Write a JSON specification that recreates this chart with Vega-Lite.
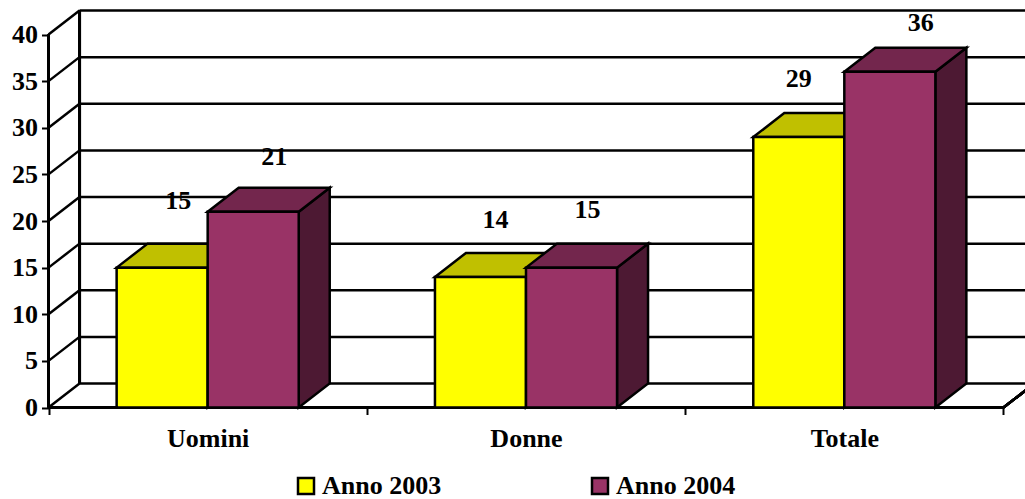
{
  "$schema": "https://vega.github.io/schema/vega-lite/v6.json",
  "autosize": {"type": "none"},
  "width": 1025,
  "height": 499,
  "padding": 0,
  "background": "white",
  "view": {"stroke": null},
  "config": {"font": "Liberation Serif"},
  "datasets": {
    "barre": [
      {"categoria": "Uomini", "anno": "Anno 2003", "valore": 15},
      {"categoria": "Uomini", "anno": "Anno 2004", "valore": 21},
      {"categoria": "Donne", "anno": "Anno 2003", "valore": 14},
      {"categoria": "Donne", "anno": "Anno 2004", "valore": 15},
      {"categoria": "Totale", "anno": "Anno 2003", "valore": 29},
      {"categoria": "Totale", "anno": "Anno 2004", "valore": 36}
    ],
    "griglia": [
      {"t": 0}, {"t": 5}, {"t": 10}, {"t": 15}, {"t": 20}, {"t": 25}, {"t": 30}, {"t": 35}, {"t": 40}
    ]
  },
  "data": {"name": "barre"},
  "transform": [
    {"calculate": "indexof(['Uomini','Donne','Totale'],datum.categoria)+0.214+(datum.anno=='Anno 2004'?0.286:0)", "as": "x0"},
    {"calculate": "datum.x0+0.286", "as": "x1"},
    {"calculate": "datum.x0+0.143", "as": "xc"},
    {"calculate": "datum.valore+2.574", "as": "vb"}
  ],
  "layer": [
    {
      "data": {"name": "griglia"},
      "transform": [{"calculate": "datum.t+2.574", "as": "tb"}],
      "mark": {"type": "rule", "stroke": "black", "strokeWidth": 2.5},
      "encoding": {
        "x": {
          "datum": 0.0974,
          "type": "quantitative",
          "scale": {"domain": [-0.1524, 3.0676], "nice": false, "zero": false},
          "axis": {
            "title": null, "grid": false, "domain": false, "orient": "bottom", "offset": -91.5,
            "values": [0, 0.5, 1, 1.5, 2, 2.5, 3],
            "labelExpr": "datum.value==0.5?'Uomini':datum.value==1.5?'Donne':datum.value==2.5?'Totale':''",
            "labelFont": "Liberation Serif", "labelFontWeight": "bold", "labelFontSize": 26, "labelColor": "black",
            "labelPadding": 11, "labelOverlap": false, "labelFlush": false, "labelAngle": 0,
            "tickColor": "black", "tickWidth": 2, "tickSize": 7,
            "tickOpacity": {"condition": {"test": "datum.value%1==0", "value": 1}, "value": 0}
          }
        },
        "x2": {"datum": 3.0676},
        "y": {
          "field": "tb",
          "type": "quantitative",
          "scale": {"domain": [-9.812, 43.7], "nice": false, "zero": false},
          "axis": {
            "title": null, "grid": false, "domain": false, "orient": "left", "offset": -48.5,
            "values": [0, 5, 10, 15, 20, 25, 30, 35, 40],
            "labelFont": "Liberation Serif", "labelFontWeight": "bold", "labelFontSize": 26, "labelColor": "black",
            "labelPadding": 4, "labelOverlap": false, "labelFlush": false,
            "tickColor": "black", "tickWidth": 2, "tickSize": 7
          }
        }
      }
    },
    {
      "data": {"name": "griglia"},
      "transform": [{"calculate": "datum.t+2.574", "as": "tb"}],
      "mark": {"type": "rule", "stroke": "black", "strokeWidth": 2.5},
      "encoding": {
        "x": {"datum": 0, "type": "quantitative"},
        "x2": {"datum": 0.0974},
        "y": {"field": "t", "type": "quantitative"},
        "y2": {"field": "tb"}
      }
    },
    {
      "mark": {"type": "rule", "stroke": "black", "strokeWidth": 2.5},
      "encoding": {
        "x": {"datum": 0, "type": "quantitative"},
        "y": {"datum": 0, "type": "quantitative"},
        "y2": {"datum": 40}
      }
    },
    {
      "mark": {"type": "rule", "stroke": "black", "strokeWidth": 3},
      "encoding": {
        "x": {"datum": 0.0974, "type": "quantitative"},
        "y": {"datum": 2.574, "type": "quantitative"},
        "y2": {"datum": 42.574}
      }
    },
    {
      "mark": {"type": "rule", "stroke": "black", "strokeWidth": 2.5, "clip": true},
      "encoding": {
        "x": {"datum": 3, "type": "quantitative"},
        "x2": {"datum": 3.0974},
        "y": {"datum": 0, "type": "quantitative"},
        "y2": {"datum": 2.574}
      }
    },
    {
      "mark": {"type": "rule", "stroke": "black", "strokeWidth": 3},
      "encoding": {
        "x": {"datum": 0, "type": "quantitative"},
        "x2": {"datum": 3},
        "y": {"datum": 0, "type": "quantitative"}
      }
    },
    {
      "transform": [
        {"calculate": "[0,1]", "as": "k"},
        {"flatten": ["k"]},
        {"calculate": "datum.x1+datum.k*0.0974", "as": "xs"},
        {"calculate": "datum.k*2.574", "as": "low"},
        {"calculate": "datum.valore+datum.k*2.574", "as": "high"},
        {"calculate": "datum.categoria+datum.anno", "as": "id"}
      ],
      "mark": {"type": "area", "orient": "vertical", "stroke": "black", "strokeWidth": 2.5, "strokeJoin": "miter"},
      "encoding": {
        "x": {"field": "xs", "type": "quantitative"},
        "y": {"field": "high", "type": "quantitative", "stack": null},
        "y2": {"field": "low"},
        "detail": {"field": "id"},
        "fill": {"condition": {"test": "datum.anno=='Anno 2003'", "value": "#808000"}, "value": "#4d1933"}
      }
    },
    {
      "transform": [
        {"calculate": "[0,1,2,3]", "as": "k"},
        {"flatten": ["k"]},
        {"calculate": "datum.k==0?datum.x0:datum.k==1?datum.x0+0.0974:datum.k==2?datum.x1:datum.x1+0.0974", "as": "xs"},
        {"calculate": "datum.k==0?datum.valore:datum.vb", "as": "high"},
        {"calculate": "datum.k==3?datum.vb:datum.valore", "as": "low"},
        {"calculate": "datum.categoria+datum.anno", "as": "id"}
      ],
      "mark": {"type": "area", "orient": "vertical", "stroke": "black", "strokeWidth": 2.5, "strokeJoin": "miter"},
      "encoding": {
        "x": {"field": "xs", "type": "quantitative"},
        "y": {"field": "high", "type": "quantitative", "stack": null},
        "y2": {"field": "low"},
        "detail": {"field": "id"},
        "fill": {"condition": {"test": "datum.anno=='Anno 2003'", "value": "#c0c000"}, "value": "#73264d"}
      }
    },
    {
      "mark": {"type": "bar", "stroke": "black", "strokeWidth": 2.5},
      "encoding": {
        "x": {"field": "x0", "type": "quantitative"},
        "x2": {"field": "x1"},
        "y": {"field": "valore", "type": "quantitative", "stack": null},
        "y2": {"datum": 0},
        "fill": {
          "field": "anno",
          "type": "nominal",
          "scale": {"domain": ["Anno 2003", "Anno 2004"], "range": ["#ffff00", "#993366"]},
          "legend": {
            "title": null, "orient": "none", "legendX": 293, "legendY": 473, "columns": 2, "columnPadding": 145,
            "direction": "horizontal",
            "symbolType": "square", "symbolSize": 256, "symbolStrokeColor": "black", "symbolStrokeWidth": 2.5, "symbolOpacity": 1,
            "labelFont": "Liberation Serif", "labelFontWeight": "bold", "labelFontSize": 26, "labelColor": "black", "labelOffset": 3, "labelLimit": 300
          }
        }
      }
    },
    {
      "transform": [{"filter": "datum.categoria=='Uomini'&&datum.anno=='Anno 2003'"}],
      "mark": {"type": "text", "font": "Liberation Serif", "fontWeight": "bold", "fontSize": 26, "fill": "black", "dx": 16, "dy": -67},
      "encoding": {"x": {"field": "xc", "type": "quantitative"}, "y": {"field": "valore", "type": "quantitative", "stack": null}, "text": {"field": "valore"}}
    },
    {
      "transform": [{"filter": "datum.categoria=='Uomini'&&datum.anno=='Anno 2004'"}],
      "mark": {"type": "text", "font": "Liberation Serif", "fontWeight": "bold", "fontSize": 26, "fill": "black", "dx": 21, "dy": -55},
      "encoding": {"x": {"field": "xc", "type": "quantitative"}, "y": {"field": "valore", "type": "quantitative", "stack": null}, "text": {"field": "valore"}}
    },
    {
      "transform": [{"filter": "datum.categoria=='Donne'&&datum.anno=='Anno 2003'"}],
      "mark": {"type": "text", "font": "Liberation Serif", "fontWeight": "bold", "fontSize": 26, "fill": "black", "dx": 15, "dy": -57},
      "encoding": {"x": {"field": "xc", "type": "quantitative"}, "y": {"field": "valore", "type": "quantitative", "stack": null}, "text": {"field": "valore"}}
    },
    {
      "transform": [{"filter": "datum.categoria=='Donne'&&datum.anno=='Anno 2004'"}],
      "mark": {"type": "text", "font": "Liberation Serif", "fontWeight": "bold", "fontSize": 26, "fill": "black", "dx": 16, "dy": -58},
      "encoding": {"x": {"field": "xc", "type": "quantitative"}, "y": {"field": "valore", "type": "quantitative", "stack": null}, "text": {"field": "valore"}}
    },
    {
      "transform": [{"filter": "datum.categoria=='Totale'&&datum.anno=='Anno 2003'"}],
      "mark": {"type": "text", "font": "Liberation Serif", "fontWeight": "bold", "fontSize": 26, "fill": "black", "dx": 0, "dy": -58},
      "encoding": {"x": {"field": "xc", "type": "quantitative"}, "y": {"field": "valore", "type": "quantitative", "stack": null}, "text": {"field": "valore"}}
    },
    {
      "transform": [{"filter": "datum.categoria=='Totale'&&datum.anno=='Anno 2004'"}],
      "mark": {"type": "text", "font": "Liberation Serif", "fontWeight": "bold", "fontSize": 26, "fill": "black", "dx": 31, "dy": -49},
      "encoding": {"x": {"field": "xc", "type": "quantitative"}, "y": {"field": "valore", "type": "quantitative", "stack": null}, "text": {"field": "valore"}}
    }
  ]
}
